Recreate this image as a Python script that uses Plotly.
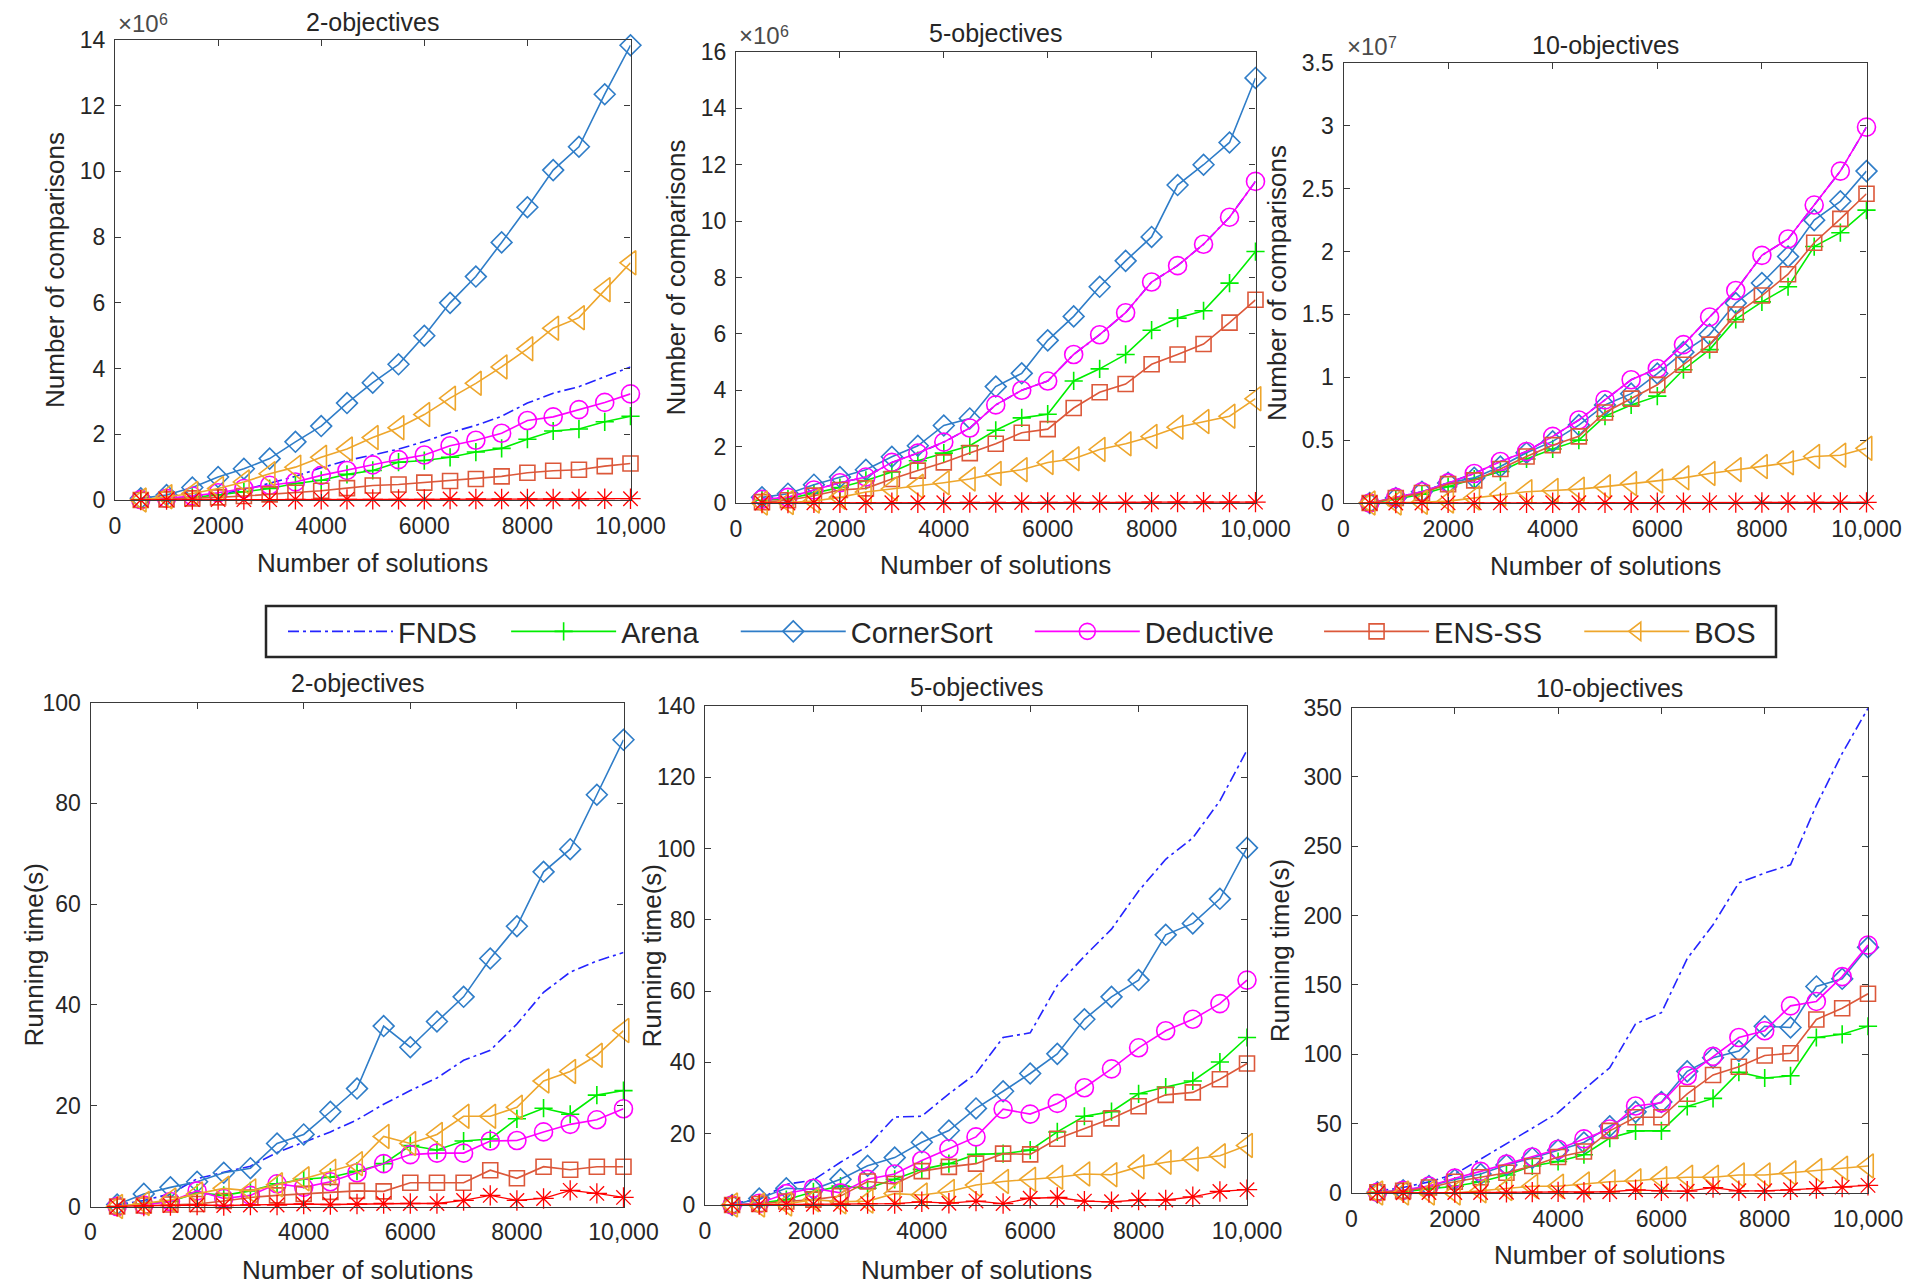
import plotly.graph_objects as go

W, H = 1907, 1287

# ---------------- data ----------------
N_SOLUTIONS = [500, 1000, 1500, 2000, 2500, 3000, 3500, 4000, 4500, 5000,
               5500, 6000, 6500, 7000, 7500, 8000, 8500, 9000, 9500, 10000]
X_TICKS = [0, 2000, 4000, 6000, 8000, 10000]
X_TICK_TEXT = ["0", "2000", "4000", "6000", "8000", "10,000"]

# Number of comparisons, 2 objectives (x 10^6)
CMP2_FNDS = [0.01, 0.04, 0.1, 0.18, 0.3, 0.5, 0.72, 0.98, 1.2, 1.37, 1.55, 1.78, 2.05, 2.27, 2.55, 2.95, 3.25, 3.45, 3.75, 4.05]
CMP2_ARENA = [0.01, 0.03, 0.08, 0.15, 0.25, 0.35, 0.5, 0.6, 0.78, 0.9, 1.15, 1.2, 1.3, 1.46, 1.57, 1.85, 2.1, 2.16, 2.38, 2.55]
CMP2_CORNER = [0.05, 0.15, 0.38, 0.7, 0.95, 1.26, 1.77, 2.25, 2.95, 3.57, 4.13, 5.0, 6.0, 6.8, 7.84, 8.91, 10.04, 10.75, 12.35, 13.84]
CMP2_DEDUCT = [0.01, 0.05, 0.12, 0.22, 0.35, 0.45, 0.55, 0.75, 0.9, 1.07, 1.23, 1.37, 1.65, 1.82, 2.03, 2.42, 2.53, 2.75, 2.97, 3.23]
CMP2_ENSSS = [0.0, 0.02, 0.05, 0.08, 0.12, 0.17, 0.22, 0.28, 0.36, 0.44, 0.47, 0.53, 0.58, 0.64, 0.72, 0.83, 0.89, 0.92, 1.03, 1.11]
CMP2_BOS = [0.0, 0.1, 0.2, 0.35, 0.55, 0.8, 1.0, 1.3, 1.55, 1.9, 2.2, 2.6, 3.1, 3.55, 4.05, 4.6, 5.23, 5.55, 6.4, 7.22]
CMP2_PROP = [0.0, 0.01, 0.01, 0.01, 0.01, 0.01, 0.02, 0.02, 0.02, 0.02, 0.02, 0.02, 0.03, 0.03, 0.03, 0.03, 0.03, 0.03, 0.04, 0.04]

# Number of comparisons, 5 objectives (x 10^6)
CMP5_FNDS = [0.13, 0.2, 0.46, 0.72, 0.92, 1.44, 1.77, 2.16, 2.66, 3.48, 4.0, 4.33, 5.27, 5.97, 6.75, 7.84, 8.42, 9.18, 10.14, 11.41]
CMP5_ARENA = [0.1, 0.15, 0.35, 0.55, 0.8, 1.1, 1.5, 1.77, 2.03, 2.58, 3.02, 3.15, 4.33, 4.76, 5.27, 6.13, 6.56, 6.82, 7.8, 8.92]
CMP5_CORNER = [0.2, 0.33, 0.65, 0.92, 1.18, 1.64, 2.03, 2.75, 3.0, 4.13, 4.6, 5.77, 6.62, 7.67, 8.59, 9.44, 11.28, 12.0, 12.79, 15.08]
CMP5_DEDUCT = [0.13, 0.2, 0.46, 0.72, 0.92, 1.44, 1.77, 2.16, 2.66, 3.48, 4.0, 4.33, 5.27, 5.97, 6.75, 7.84, 8.42, 9.18, 10.14, 11.41]
CMP5_ENSSS = [0.03, 0.1, 0.26, 0.46, 0.52, 0.85, 1.15, 1.44, 1.77, 2.1, 2.49, 2.62, 3.37, 3.93, 4.22, 4.92, 5.27, 5.64, 6.4, 7.21]
CMP5_BOS = [0.0, 0.02, 0.07, 0.2, 0.39, 0.5, 0.59, 0.72, 0.85, 1.05, 1.18, 1.44, 1.57, 1.9, 2.1, 2.36, 2.69, 2.89, 3.08, 3.7]
CMP5_PROP = [0.0, 0.0, 0.01, 0.01, 0.01, 0.01, 0.01, 0.01, 0.02, 0.02, 0.02, 0.02, 0.02, 0.02, 0.02, 0.03, 0.03, 0.03, 0.03, 0.03]

# Number of comparisons, 10 objectives (x 10^7)
CMP10_FNDS = [0.0, 0.045, 0.09, 0.16, 0.235, 0.33, 0.41, 0.53, 0.66, 0.82, 0.98, 1.07, 1.26, 1.48, 1.69, 1.97, 2.1, 2.37, 2.64, 2.99]
CMP10_ARENA = [0.0, 0.03, 0.07, 0.13, 0.19, 0.25, 0.35, 0.43, 0.5, 0.69, 0.78, 0.85, 1.06, 1.22, 1.46, 1.6, 1.72, 2.04, 2.15, 2.33]
CMP10_CORNER = [0.0, 0.04, 0.09, 0.16, 0.2, 0.29, 0.4, 0.49, 0.62, 0.78, 0.87, 1.03, 1.2, 1.34, 1.59, 1.75, 1.96, 2.25, 2.4, 2.64]
CMP10_DEDUCT = [0.0, 0.045, 0.09, 0.16, 0.235, 0.33, 0.41, 0.53, 0.66, 0.82, 0.98, 1.07, 1.26, 1.48, 1.69, 1.97, 2.1, 2.37, 2.64, 2.99]
CMP10_ENSSS = [0.0, 0.04, 0.08, 0.15, 0.18, 0.27, 0.37, 0.46, 0.53, 0.72, 0.83, 0.94, 1.1, 1.26, 1.5, 1.65, 1.82, 2.07, 2.26, 2.46]
CMP10_BOS = [0.0, 0.0, 0.005, 0.015, 0.04, 0.07, 0.09, 0.1, 0.11, 0.13, 0.155, 0.175, 0.2, 0.235, 0.265, 0.29, 0.32, 0.37, 0.38, 0.435]
CMP10_PROP = [0.0, 0.0, 0.0, 0.001, 0.001, 0.001, 0.001, 0.002, 0.002, 0.002, 0.002, 0.003, 0.003, 0.003, 0.003, 0.004, 0.004, 0.004, 0.004, 0.005]

# Running time (s), 2 objectives
TIME2_FNDS = [0.3, 1.2, 2.5, 5.5, 6.8, 8.0, 10.7, 12.7, 14.8, 17.2, 20.3, 23.0, 25.5, 29.0, 31.0, 36.2, 42.5, 46.5, 48.7, 50.4]
TIME2_ARENA = [0.0, 0.5, 1.0, 2.7, 2.2, 3.1, 4.5, 5.4, 5.8, 7.0, 8.5, 12.1, 11.2, 13.0, 13.4, 17.4, 19.5, 18.3, 22.1, 23.0]
TIME2_CORNER = [0.4, 2.5, 3.8, 4.9, 6.7, 7.6, 12.5, 14.3, 18.8, 23.4, 35.8, 31.6, 36.7, 41.6, 49.2, 55.6, 66.4, 70.9, 81.7, 92.6]
TIME2_DEDUCT = [0.0, 0.3, 1.0, 3.1, 1.6, 2.2, 4.5, 3.8, 4.9, 6.7, 8.5, 10.3, 10.6, 10.6, 13.0, 13.1, 14.8, 16.3, 17.2, 19.4]
TIME2_ENSSS = [0.0, 0.2, 0.4, 0.5, 1.1, 1.8, 2.2, 2.5, 2.9, 3.1, 3.0, 4.7, 4.7, 4.7, 7.2, 5.6, 7.9, 7.3, 7.9, 7.9]
TIME2_BOS = [0.0, 0.6, 1.3, 2.5, 3.6, 3.1, 4.3, 5.5, 7.0, 8.5, 13.9, 12.5, 14.3, 17.9, 17.9, 19.7, 24.9, 26.8, 30.0, 34.9]
TIME2_PROP = [0.0, 0.1, 0.2, 0.3, 0.2, 0.3, 0.3, 0.5, 0.4, 0.5, 0.6, 0.6, 0.6, 1.2, 2.2, 1.2, 1.6, 3.2, 2.6, 1.8]

# Running time (s), 5 objectives
TIME5_FNDS = [0.5, 1.5, 5.8, 7.0, 12.0, 16.5, 24.7, 24.9, 31.2, 36.9, 47.0, 48.3, 61.6, 69.8, 77.4, 88.1, 97.0, 103.0, 113.4, 127.6]
TIME5_ARENA = [0.0, 0.5, 1.5, 3.7, 5.3, 4.7, 7.2, 10.0, 11.6, 14.2, 14.4, 15.4, 20.5, 24.9, 26.2, 31.2, 33.1, 34.8, 40.1, 47.0]
TIME5_CORNER = [0.0, 1.8, 4.7, 4.4, 7.2, 11.0, 13.3, 17.6, 20.9, 27.1, 31.9, 36.9, 42.4, 52.1, 58.4, 63.1, 75.8, 79.0, 85.9, 100.2]
TIME5_DEDUCT = [0.0, 0.5, 3.2, 4.7, 3.4, 7.2, 8.7, 12.5, 15.8, 19.1, 26.9, 25.5, 28.5, 32.9, 38.2, 44.1, 48.9, 52.1, 56.5, 63.1]
TIME5_ENSSS = [0.0, 0.3, 1.0, 1.5, 2.5, 6.6, 5.9, 9.5, 10.7, 11.6, 14.4, 14.2, 18.6, 21.4, 24.3, 27.7, 30.9, 31.6, 35.3, 39.7]
TIME5_BOS = [0.0, 0.0, 0.3, 1.5, 0.9, 1.1, 3.2, 2.8, 3.8, 5.6, 6.6, 7.2, 7.8, 8.7, 8.5, 10.7, 12.0, 12.9, 13.8, 16.7]
TIME5_PROP = [0.0, 0.1, 0.1, 0.2, 0.2, 0.4, 0.4, 0.9, 0.5, 1.1, 0.4, 1.9, 2.1, 1.1, 0.9, 1.4, 1.4, 2.3, 3.8, 4.3]

# Running time (s), 10 objectives
TIME10_FNDS = [1.5, 4.0, 8.0, 13.6, 24.4, 35.7, 47.1, 57.9, 74.7, 90.3, 121.9, 130.0, 169.0, 193.4, 223.6, 230.7, 236.6, 279.5, 316.9, 349.4]
TIME10_ARENA = [0.5, 1.0, 3.0, 4.9, 8.1, 13.0, 19.5, 22.7, 27.6, 39.6, 44.8, 44.8, 62.4, 68.2, 87.1, 82.9, 84.5, 112.1, 114.4, 120.2]
TIME10_CORNER = [0.5, 2.0, 5.0, 9.7, 13.7, 20.2, 25.3, 30.9, 36.4, 48.1, 58.5, 65.6, 87.7, 97.5, 102.4, 120.2, 119.3, 148.9, 154.4, 177.1]
TIME10_DEDUCT = [0.5, 2.0, 5.0, 10.7, 15.6, 20.8, 26.0, 31.5, 39.0, 46.1, 62.7, 65.0, 84.5, 98.5, 112.1, 117.0, 134.9, 138.1, 156.0, 178.7]
TIME10_ENSSS = [0.5, 1.5, 4.0, 8.1, 11.4, 14.6, 19.5, 26.0, 29.9, 44.8, 54.6, 54.6, 71.5, 85.1, 91.0, 99.1, 100.7, 125.1, 133.2, 143.6]
TIME10_BOS = [0.0, 0.0, 0.0, 0.0, 1.6, 3.2, 4.9, 4.9, 6.5, 8.1, 8.8, 10.4, 11.4, 11.4, 13.0, 13.0, 14.6, 16.2, 17.9, 19.5]
TIME10_PROP = [0.0, 0.2, 0.3, 0.3, 0.4, 0.5, 0.6, 0.8, 0.5, 0.9, 2.3, 1.5, 1.3, 3.9, 1.6, 1.6, 2.3, 3.2, 4.2, 5.5]

PANEL_TITLES = ["2-objectives", "5-objectives", "10-objectives",
                "2-objectives", "5-objectives", "10-objectives"]
Y_TITLES = ["Number of comparisons"] * 3 + ["Running time(s)"] * 3
Y_RANGES = [14, 16, 3.5, 100, 140, 350]
Y_DTICKS = [2, 2, 0.5, 20, 20, 50]
Y_EXPONENTS = ["6", "6", "7", None, None, None]

# ---------------- styles ----------------
FONT = "Liberation Sans, Arial, sans-serif"
AX_COLOR = "#3a3a3a"
TXT_COLOR = "#262626"
NB = "\u00a0"

STYLES = [
    dict(name="FNDS", pad=3, color="#2424ff", symbol=None, size=0, lw=1.6, dash="11px,4px,3px,4px"),
    dict(name="Arena", pad=4, color="#00ee00", symbol="cross-thin-open", size=13, lw=1.6, dash="solid"),
    dict(name="CornerSort", pad=4, color="#2f7dc8", symbol="diamond-open", size=16, lw=1.6, dash="solid"),
    dict(name="Deductive", pad=5, color="#ff00ff", symbol="circle-open", size=18, lw=1.6, dash="solid"),
    dict(name="ENS-SS", pad=4, color="#dc583a", symbol="square-open", size=15, lw=1.6, dash="solid"),
    dict(name="BOS", pad=0, color="#eea62c", symbol="triangle-left-open", size=21, lw=1.6, dash="solid"),
    dict(name="Proposed", pad=0, color="#ff0000", symbol="asterisk-open", size=17, lw=1.3, dash="solid"),
]

PANEL_DATA = [
    [CMP2_FNDS, CMP2_ARENA, CMP2_CORNER, CMP2_DEDUCT, CMP2_ENSSS, CMP2_BOS, CMP2_PROP],
    [CMP5_FNDS, CMP5_ARENA, CMP5_CORNER, CMP5_DEDUCT, CMP5_ENSSS, CMP5_BOS, CMP5_PROP],
    [CMP10_FNDS, CMP10_ARENA, CMP10_CORNER, CMP10_DEDUCT, CMP10_ENSSS, CMP10_BOS, CMP10_PROP],
    [TIME2_FNDS, TIME2_ARENA, TIME2_CORNER, TIME2_DEDUCT, TIME2_ENSSS, TIME2_BOS, TIME2_PROP],
    [TIME5_FNDS, TIME5_ARENA, TIME5_CORNER, TIME5_DEDUCT, TIME5_ENSSS, TIME5_BOS, TIME5_PROP],
    [TIME10_FNDS, TIME10_ARENA, TIME10_CORNER, TIME10_DEDUCT, TIME10_ENSSS, TIME10_BOS, TIME10_PROP],
]

# plot areas in pixels: left, right, top, bottom
BOXES = [
    (115, 630.5, 40, 500),
    (736, 1255.5, 52, 503),
    (1343.5, 1866.5, 63, 503),
    (90.5, 623.5, 702.5, 1206.5),
    (705, 1247, 706, 1205),
    (1351.5, 1868, 707.5, 1193),
]
TITLE_Y = [22, 33, 45, 683, 687, 688]
XTITLE_Y = [563, 565, 566, 1270, 1270, 1255]
YTITLE_X = [55, 676, 1277, 33, 651, 1280]
LEGEND_BOX = (266, 1776, 606, 657)


def px(x):
    return x / W


def py(y):
    return 1 - y / H


fig = go.Figure()
annotations = []
layout_axes = {}

for i in range(6):
    l, r, t, b = BOXES[i]
    xa = "x" if i == 0 else f"x{i+1}"
    ya = "y" if i == 0 else f"y{i+1}"
    for j, st in enumerate(STYLES):
        mode = "lines" if st["symbol"] is None else "lines+markers"
        fig.add_trace(go.Scatter(
            x=N_SOLUTIONS, y=PANEL_DATA[i][j], mode=mode,
            name=st["name"] + NB * st["pad"],
            xaxis=xa, yaxis=ya, cliponaxis=False,
            showlegend=(i == 0 and j < 6), legendgroup=st["name"],
            line=dict(color=st["color"], width=st["lw"], dash=st["dash"]),
            marker=dict(symbol=st["symbol"] or "circle", size=st["size"],
                        color=st["color"], line=dict(color=st["color"], width=st["lw"])),
        ))
    axis_common = dict(showline=True, linecolor=AX_COLOR, linewidth=1.3, mirror="ticks",
                       ticks="inside", ticklen=6, tickwidth=1.2, tickcolor=AX_COLOR,
                       showgrid=False, zeroline=False, automargin=False,
                       tickfont=dict(family=FONT, size=23, color=TXT_COLOR))
    layout_axes["xaxis" if i == 0 else f"xaxis{i+1}"] = dict(
        axis_common, domain=[px(l), px(r)], range=[0, 10000],
        tickvals=X_TICKS, ticktext=X_TICK_TEXT, anchor=ya, ticklabelstandoff=5)
    yt = [k * Y_DTICKS[i] for k in range(int(round(Y_RANGES[i] / Y_DTICKS[i])) + 1)]
    ytt = [("%g" % v) for v in yt]
    layout_axes["yaxis" if i == 0 else f"yaxis{i+1}"] = dict(
        axis_common, domain=[py(b), py(t)], range=[0, Y_RANGES[i]],
        tickvals=yt, ticktext=ytt, anchor=xa, ticklabelstandoff=4)

    cx = px((l + r) / 2)
    annotations.append(dict(text=PANEL_TITLES[i], x=cx, y=py(TITLE_Y[i]), xref="paper", yref="paper",
                            xanchor="center", yanchor="middle", showarrow=False,
                            font=dict(family=FONT, size=25, color=TXT_COLOR)))
    annotations.append(dict(text="Number of solutions", x=cx, y=py(XTITLE_Y[i]), xref="paper", yref="paper",
                            xanchor="center", yanchor="middle", showarrow=False,
                            font=dict(family=FONT, size=26, color=TXT_COLOR)))
    annotations.append(dict(text=Y_TITLES[i], x=px(YTITLE_X[i]), y=py((t + b) / 2), xref="paper", yref="paper",
                            xanchor="center", yanchor="middle", showarrow=False, textangle=-90,
                            font=dict(family=FONT, size=26, color=TXT_COLOR)))
    if Y_EXPONENTS[i]:
        annotations.append(dict(text="\u00d710", x=px(l + 1), y=py(t - 1),
                                xref="paper", yref="paper", xanchor="left", yanchor="bottom",
                                showarrow=False, font=dict(family=FONT, size=24, color="#4a4a4a")))
        annotations.append(dict(text=Y_EXPONENTS[i], x=px(l + 42), y=py(t - 10),
                                xref="paper", yref="paper", xanchor="left", yanchor="bottom",
                                showarrow=False, font=dict(family=FONT, size=16, color="#4a4a4a")))

lx0, lx1, ly0, ly1 = LEGEND_BOX
fig.update_layout(
    width=W, height=H, margin=dict(l=0, r=0, t=0, b=0, autoexpand=False),
    paper_bgcolor="white", plot_bgcolor="white",
    annotations=annotations,
    shapes=[dict(type="rect", xref="paper", yref="paper",
                 x0=px(lx0), x1=px(lx1), y0=py(ly1), y1=py(ly0),
                 line=dict(color="#262626", width=2.5), fillcolor="rgba(0,0,0,0)")],
    legend=dict(orientation="h", x=px(lx0 + 17), y=py((ly0 + ly1) / 2), xanchor="left", yanchor="middle",
                borderwidth=0, bgcolor="rgba(0,0,0,0)", itemwidth=105,
                font=dict(family=FONT, size=29, color=TXT_COLOR)),
    **layout_axes,
)

fig.write_html("out.html", config={"displayModeBar": False},
               post_script="document.body.style.margin='0';document.body.style.padding='0';")
